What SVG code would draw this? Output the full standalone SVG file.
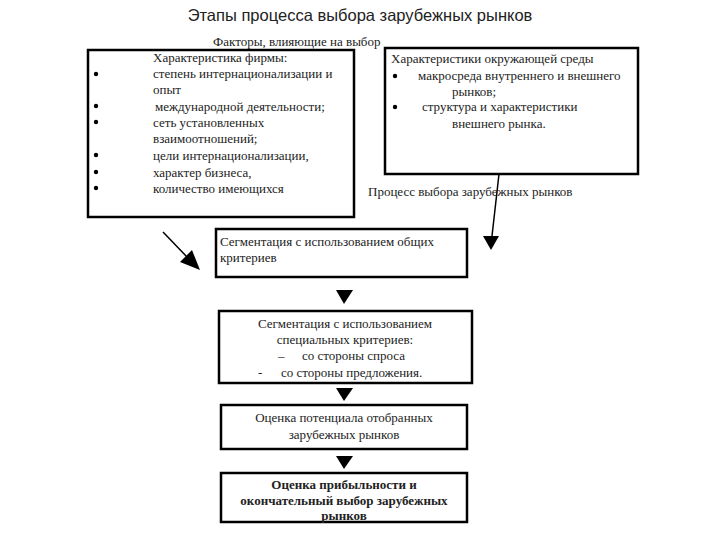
<svg xmlns="http://www.w3.org/2000/svg" width="720" height="540" viewBox="0 0 720 540">
<style>
.t{font-family:"Liberation Serif",serif;font-size:13px;fill:#222}
.b{font-weight:bold}
.box{fill:#fff;stroke:#000;stroke-width:2.5}
.ln{stroke:#000;stroke-width:1.5;fill:none}
.tri{fill:#000}
</style>
<rect width="720" height="540" fill="#fff"/>
<text x="360" y="21" text-anchor="middle" style="font-family:'Liberation Sans',sans-serif;font-size:16.5px;fill:#222">Этапы процесса выбора зарубежных рынков</text>
<g id="connectors">
<line class="ln" x1="163" y1="232" x2="188" y2="258"/>
<polygon class="tri" points="200,270 180,262 192,250"/>
<line class="ln" x1="499" y1="174" x2="492" y2="236"/>
<polygon class="tri" points="483,236 499,236 491,250"/>
<polygon class="tri" points="336,290 353,290 344,304"/>
<polygon class="tri" points="336,388 353,388 344,401"/>
<polygon class="tri" points="336,456 353,456 344,469"/>
</g>
<g id="factors">
<rect class="box" x="88" y="50" width="266" height="167"/>
<text class="t" x="213" y="46">Факторы, влияющие на выбор</text>
<g class="t">
<text x="153" y="62">Характеристика фирмы:</text>
<text x="153" y="78">степень интернационализации и</text>
<text x="153" y="94">опыт</text>
<text x="155" y="111">международной деятельности;</text>
<text x="153" y="127">сеть установленных</text>
<text x="153" y="143">взаимоотношений;</text>
<text x="153" y="160">цели интернационализации,</text>
<text x="153" y="177">характер бизнеса,</text>
<text x="153" y="193">количество имеющихся</text>
</g>
<g class="tri"><circle cx="96" cy="74" r="2.2"/><circle cx="96" cy="106" r="2.2"/><circle cx="96" cy="122" r="2.2"/><circle cx="96" cy="155" r="2.2"/><circle cx="96" cy="172" r="2.2"/><circle cx="96" cy="188" r="2.2"/></g>
</g>
<g id="environment">
<rect class="box" x="385" y="48" width="253" height="126"/>
<g class="t">
<text x="391" y="63">Характеристики окружающей среды</text>
<text x="418" y="80">макросреда внутреннего и внешнего</text>
<text x="452" y="96">рынков;</text>
<text x="422" y="111">структура и характеристики</text>
<text x="452" y="128">внешнего рынка.</text>
</g>
<circle class="tri" cx="395" cy="76" r="2.2"/><circle class="tri" cx="395" cy="107" r="2.2"/>
</g>
<text class="t" x="368" y="196">Процесс выбора зарубежных рынков</text>
<g id="s1">
<rect class="box" x="216" y="229" width="251" height="48"/>
<text class="t" x="220" y="246">Сегментация с использованием общих</text>
<text class="t" x="220" y="262">критериев</text>
</g>
<g id="s2">
<rect class="box" x="219" y="311" width="253" height="72"/>
<g class="t">
<text x="345" y="328" text-anchor="middle">Сегментация с использованием</text>
<text x="345" y="344" text-anchor="middle">специальных критериев:</text>
<text x="278" y="360">–</text><text x="302" y="360">со стороны спроса</text>
<text x="258" y="377">-</text><text x="281" y="377">со стороны предложения.</text>
</g>
</g>
<g id="s3">
<rect class="box" x="221" y="405" width="246" height="44"/>
<g class="t" text-anchor="middle">
<text x="344" y="422">Оценка потенциала отобранных</text>
<text x="344" y="439">зарубежных рынков</text>
</g>
</g>
<g id="s4">
<rect class="box" x="221" y="473" width="246" height="49"/>
<g class="t b" text-anchor="middle">
<text x="344" y="489">Оценка прибыльности и</text>
<text x="344" y="505">окончательный выбор зарубежных</text>
<text x="344" y="520">рынков</text>
</g>
</g>
</svg>
